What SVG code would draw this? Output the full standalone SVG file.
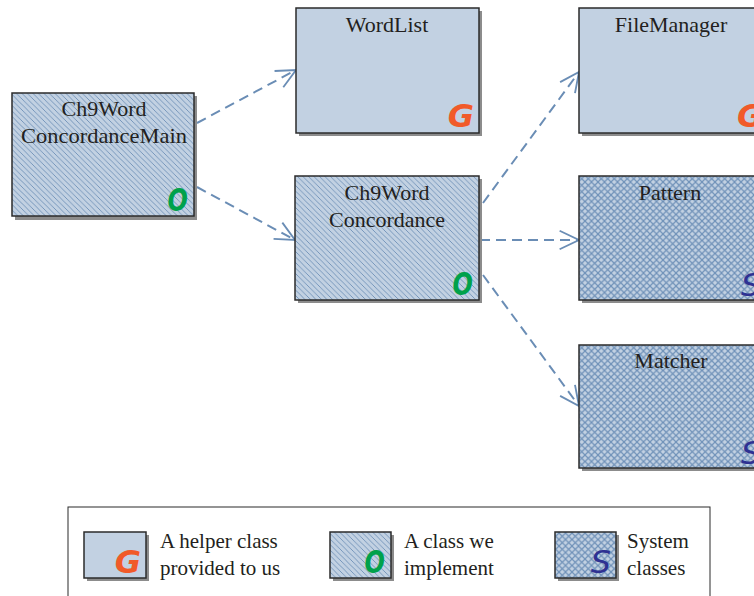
<svg xmlns="http://www.w3.org/2000/svg" width="754" height="596" viewBox="0 0 754 596">
<style>
.box{stroke:#2b2b2b;stroke-width:1.5}
.shadow{fill:#8c8c8c}
.plain{fill:#c2d1e2}
.hatch{fill:url(#hatch)}
.cross{fill:url(#cross)}
.lbl{font-family:"Liberation Serif","Times New Roman",serif;font-size:22px;fill:#231f20;text-anchor:middle}
.leg{font-family:"Liberation Serif","Times New Roman",serif;font-size:21px;fill:#231f20}
.tag{font-family:"DejaVu Sans","Liberation Sans",sans-serif;font-style:italic;font-weight:bold;font-size:32px}
.g{fill:#f15a29}
.o{fill:#00a14b}
.s{fill:#2e3192;font-weight:normal}
.conn{fill:none;stroke:#6a8db5;stroke-width:2;stroke-dasharray:10 6;marker-end:url(#arr)}
</style>
<defs>
<pattern id="hatch" patternUnits="userSpaceOnUse" width="5.5" height="5.5">
<rect width="5.5" height="5.5" fill="#c2d1e2"/>
<path d="M0,0 L5.5,5.5 M-1,4.5 L1,6.5 M4.5,-1 L6.5,1" stroke="#6f91b8" stroke-width="0.9"/>
</pattern>
<pattern id="cross" patternUnits="userSpaceOnUse" width="6.5" height="6.5">
<rect width="6.5" height="6.5" fill="#c2d1e2"/>
<path d="M0,0 L6.5,6.5 M6.5,0 L0,6.5" stroke="#6f91b8" stroke-width="1.2"/>
</pattern>
<marker id="arr" markerUnits="userSpaceOnUse" markerWidth="24" markerHeight="24" refX="21" refY="10" orient="auto" viewBox="-2 -2 26 24">
<path d="M0,0 L21,10 L0,20" fill="none" stroke="#6a8db5" stroke-width="2"/>
</marker>
</defs>

<g id="connectors">
<line class="conn" x1="197" y1="123" x2="296" y2="70"/>
<line class="conn" x1="197" y1="187" x2="295" y2="240"/>
<line class="conn" x1="483" y1="203" x2="579" y2="72"/>
<line class="conn" x1="480" y1="240" x2="579" y2="240"/>
<line class="conn" x1="483" y1="275" x2="579" y2="406"/>
</g>

<g id="main">
<rect class="shadow" x="15" y="96" width="182" height="124"/>
<rect class="box hatch" x="12" y="93" width="182" height="123"/>
<text class="lbl" x="104" y="116">Ch9Word</text>
<text class="lbl" x="104" y="143" textLength="166" lengthAdjust="spacingAndGlyphs">ConcordanceMain</text>
<text class="tag o" x="188" y="211" text-anchor="end" transform="translate(188 0) scale(0.75 1) translate(-188 0)">O</text>
</g>

<g id="wordlist">
<rect class="shadow" x="299" y="11" width="183" height="125"/>
<rect class="box plain" x="296" y="8" width="183" height="125"/>
<text class="lbl" x="387" y="32">WordList</text>
<text class="tag g" x="474" y="127" text-anchor="end">G</text>
</g>

<g id="concordance">
<rect class="shadow" x="298" y="179" width="184" height="124"/>
<rect class="box hatch" x="295" y="176" width="184" height="124"/>
<text class="lbl" x="387" y="200">Ch9Word</text>
<text class="lbl" x="387" y="227">Concordance</text>
<text class="tag o" x="473" y="295" text-anchor="end" transform="translate(473 0) scale(0.75 1) translate(-473 0)">O</text>
</g>

<g id="filemanager">
<rect class="shadow" x="582" y="11" width="183" height="125"/>
<rect class="box plain" x="579" y="8" width="183" height="125"/>
<text class="lbl" x="671" y="32">FileManager</text>
<text class="tag g" x="737" y="127">G</text>
</g>

<g id="pattern">
<rect class="shadow" x="582" y="179" width="183" height="124"/>
<rect class="box cross" x="579" y="176" width="183" height="124"/>
<text class="lbl" x="670" y="200">Pattern</text>
<text class="tag s" x="741" y="296">S</text>
</g>

<g id="matcher">
<rect class="shadow" x="582" y="348" width="183" height="123"/>
<rect class="box cross" x="579" y="345" width="183" height="123"/>
<text class="lbl" x="671" y="368">Matcher</text>
<text class="tag s" x="741" y="464">S</text>
</g>

<g id="legend">
<rect x="68" y="507" width="642" height="100" fill="#ffffff" stroke="#2b2b2b" stroke-width="1"/>
<rect class="shadow" x="87" y="535" width="62" height="46"/>
<rect class="box plain" x="84" y="532" width="62" height="46"/>
<text class="tag g" x="141" y="573" text-anchor="end">G</text>
<text class="leg" x="160" y="548">A helper class</text>
<text class="leg" x="160" y="575">provided to us</text>
<rect class="shadow" x="333" y="535" width="61" height="46"/>
<rect class="box hatch" x="330" y="532" width="61" height="46"/>
<text class="tag o" x="385" y="573" text-anchor="end" transform="translate(385 0) scale(0.75 1) translate(-385 0)">O</text>
<text class="leg" x="404" y="548">A class we</text>
<text class="leg" x="404" y="575">implement</text>
<rect class="shadow" x="558" y="535" width="61" height="46"/>
<rect class="box cross" x="555" y="532" width="61" height="46"/>
<text class="tag s" x="611" y="573" text-anchor="end">S</text>
<text class="leg" x="627" y="548">System</text>
<text class="leg" x="627" y="575">classes</text>
</g>
</svg>
